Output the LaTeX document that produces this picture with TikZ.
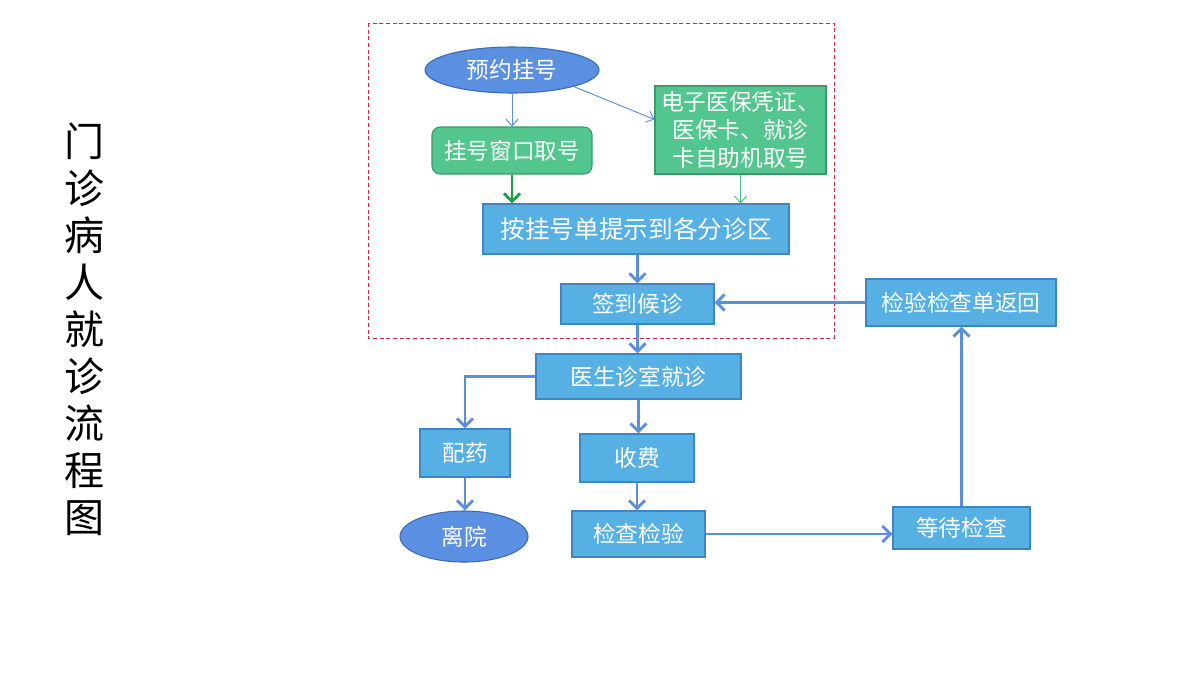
\documentclass[tikz,border=0pt]{standalone}
\usepackage{fontspec}
\setmainfont{Noto Sans CJK SC}
\usetikzlibrary{arrows.meta,shapes.geometric}
\definecolor{boxblue}{HTML}{56B0E3}
\definecolor{boxborder}{HTML}{3F86C0}
\definecolor{ellfill}{HTML}{5B8FE2}
\definecolor{ellborder}{HTML}{3D6BB8}
\definecolor{grfill}{HTML}{52C68E}
\definecolor{grborder}{HTML}{3A9A6A}
\definecolor{arrblue}{HTML}{5B8EDC}
\definecolor{arrgreen}{HTML}{1BA04A}
\definecolor{thingreen}{HTML}{4DBF86}
\definecolor{dashred}{HTML}{D0283C}
\begin{document}
\begin{tikzpicture}[x=0.75pt,y=-0.75pt,
  txt/.style={text=white, font=\fontsize{17}{21}\selectfont, inner sep=0pt, align=center},
  bx/.style args={#1/#2}{txt, draw=boxborder, fill=boxblue, line width=0.8pt,
     minimum width=#1*0.75pt, minimum height=#2*0.75pt},
  gbx/.style args={#1/#2}{txt, draw=grborder, fill=grfill, line width=0.8pt,
     minimum width=#1*0.75pt, minimum height=#2*0.75pt},
  ell/.style args={#1/#2}{txt, ellipse, draw=ellborder, fill=ellfill, line width=0.8pt,
     minimum width=#1*0.75pt, minimum height=#2*0.75pt},
  ar/.style={draw=arrblue, line width=2.2pt, -{Straight Barb[length=6pt,width=12pt]}},
  thinar/.style={draw=arrblue, line width=0.7pt, -{Straight Barb[length=5pt,width=9pt]}},
  gar/.style={draw=arrgreen, line width=2.2pt, -{Straight Barb[length=6pt,width=12pt]}},
  gthin/.style={draw=thingreen, line width=0.7pt, -{Straight Barb[length=5pt,width=9pt]}}
]
\useasboundingbox (0,0) rectangle (1201,676);
\fill[white] (0,0) rectangle (1201,676);

% title
\node[font=\fontsize{30}{35.25}\selectfont, align=center, inner sep=0pt] (title) at (84,329)
  {门\\诊\\病\\人\\就\\诊\\流\\程\\图};

% dashed frame
\draw[dashred, line width=0.7pt, dash pattern=on 3pt off 2pt] (368,23) rectangle (834,338);

% nodes
\node[ell=174/46] (yy) at (512,70) {预约挂号};
\node[gbx=160/47, rounded corners=6pt] (gh) at (512,150.5) {挂号窗口取号};
\node[gbx=171/88, font=\fontsize{17}{21}\selectfont] (dz) at (740.5,130) {电子医保凭证、\\医保卡、就诊\\卡自助机取号};
\node[bx=306/50, font=\fontsize{18.5}{22}\selectfont] (aq) at (636,229) {按挂号单提示到各分诊区};
\node[bx=153/40] (qd) at (637.5,304) {签到候诊};
\node[bx=190/47] (fh) at (961,302.5) {检验检查单返回};
\node[bx=205/45] (ys) at (638.5,376.5) {医生诊室就诊};
\node[bx=90/48] (py) at (465,453) {配药};
\node[ell=128/51] (ly) at (464,536.5) {离院};
\node[bx=114/48] (sf) at (637,458) {收费};
\node[bx=133/46] (jc) at (638.5,534) {检查检验};
\node[bx=137/42] (dd) at (961.5,528) {等待检查};

% connectors
\draw[thinar] (yy.south) -- (gh.north);
\draw[thinar] (yy.south east) -- (dz.173);
\draw[gar] (gh.south) -- (gh.south |- aq.north);
\draw[gthin] (dz.south) -- (dz.south |- aq.north);
\draw[ar] (qd.north |- aq.south) -- (qd.north);
\draw[ar] (qd.south) -- (qd.south |- ys.north);
\draw[ar] (fh.west) -- (fh.west -| qd.east);
\draw[ar] (ys.west) -| (py.north);
\draw[ar] (py.south) -- (py.south |- ly.north);
\draw[ar] (ys.south) -- (ys.south |- sf.north);
\draw[ar] (sf.south) -- (sf.south |- jc.north);
\draw[ar] (jc.east) -- (jc.east -| dd.west);
\draw[ar] (dd.north) -- (dd.north |- fh.south);
\end{tikzpicture}
\end{document}
